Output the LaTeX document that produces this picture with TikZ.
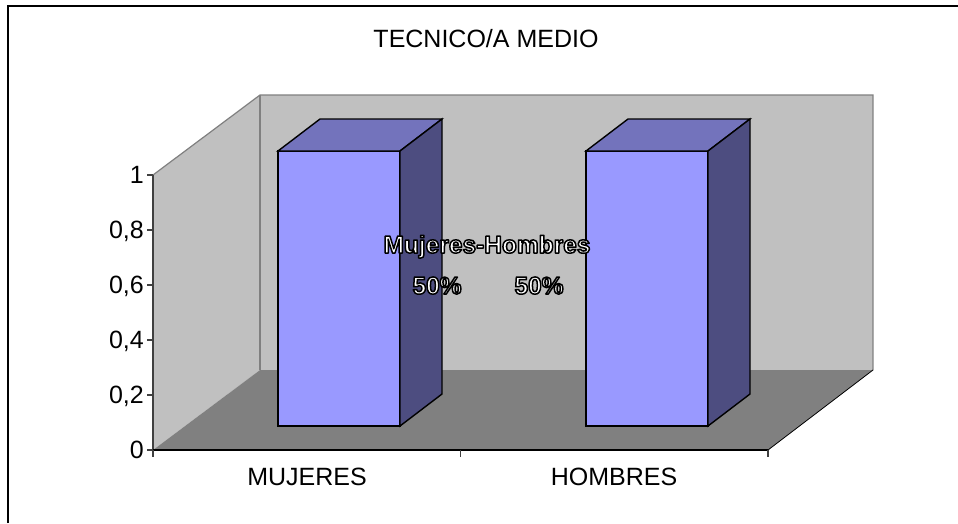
\documentclass[tikz,border=0pt]{standalone}
\usepackage{fontspec}
\setmainfont{Liberation Sans}
\definecolor{wallc}{RGB}{192,192,192}
\definecolor{floorc}{RGB}{128,128,128}
\definecolor{edgec}{RGB}{128,128,128}
\definecolor{frontc}{RGB}{153,153,255}
\definecolor{topc}{RGB}{115,115,188}
\definecolor{sidec}{RGB}{77,77,128}
\newcommand\drawbarbox[1]{%
  \filldraw[barline, fill=frontc] (#1,151) rectangle (#1+122,426);
  \filldraw[barline, fill=topc] (#1,151) -- (#1+42,119) -- (#1+164,119) -- (#1+122,151) -- cycle;
  \filldraw[barline, fill=sidec] (#1+122,151) -- (#1+164,119) -- (#1+164,394) -- (#1+122,426) -- cycle;
}
\newcommand\outlinedtext[1]{%
  \special{pdf:literal direct 2 Tr 1.5 w 1 j 0 G 1 g}#1%
  \special{pdf:literal direct 0 Tr 1 w 0 G 0 g}}
\begin{document}
\begin{tikzpicture}[x=1pt,y=-1pt,
  barline/.style={draw=black, line width=1.4pt, line join=miter},
  txt/.style={inner sep=0pt, font=\fontsize{25}{30}\selectfont, text=black},
  ylab/.style={txt, anchor=base east},
  xlab/.style={txt, anchor=base},
  dlab/.style={inner sep=0pt, anchor=base, text=white, font=\fontsize{24.5}{29}\selectfont\bfseries}]
\useasboundingbox (0,0) rectangle (958,523);
\fill[white] (0,0) rectangle (958,523);
% outer frame (only top and left visible)
\draw[line width=2pt] (7.8,523) -- (7.8,6.3) -- (958,6.3);
% walls
\fill[wallc] (153,450) -- (153,175) -- (260,95) -- (260,370) -- cycle;
\fill[wallc] (260,95) rectangle (873,370);
\fill[floorc] (153,450) -- (260,370) -- (873,370) -- (768,450) -- cycle;
\draw[edgec, line width=1.2pt] (153,175) -- (260,95) -- (873,95) -- (873,370);
\draw[edgec, line width=1.2pt] (260,95) -- (260,370);
\draw[black, line width=0.8pt] (873,370) -- (768,450);
% axes
\draw[black!75, line width=1.2pt] (153,175) -- (153,450);
\draw[black, line width=1.2pt] (153,450) -- (768,450);
\foreach \yy in {175,230,285,340,395,450}
  \draw[black!75, line width=1.2pt] (147,\yy) -- (153,\yy);
\foreach \xx in {153,460.5,768}
  \draw[black!75, line width=1.2pt] (\xx,450) -- (\xx,457);
% bars
\drawbarbox{278}
\drawbarbox{586}
% title
\node[xlab] (title) at (486,47) {TECNICO/A MEDIO};
% y labels
\node[ylab] (y10) at (144,183) {1};
\node[ylab] (y08) at (144,238) {0,8};
\node[ylab] (y06) at (144,293) {0,6};
\node[ylab] (y04) at (144,348) {0,4};
\node[ylab] (y02) at (144,403) {0,2};
\node[ylab] (y00) at (144,458) {0};
% x labels
\node[xlab] (xm) at (307,485) {MUJERES};
\node[xlab] (xh) at (614,485) {HOMBRES};
% data labels with outline
\node[dlab] (dl) at (487,253) {\outlinedtext{Mujeres-Hombres}};
\node[dlab] (dm) at (437,294) {\outlinedtext{50\%}};
\node[dlab] (dh) at (539,294) {\outlinedtext{50\%}};
\end{tikzpicture}
\end{document}
